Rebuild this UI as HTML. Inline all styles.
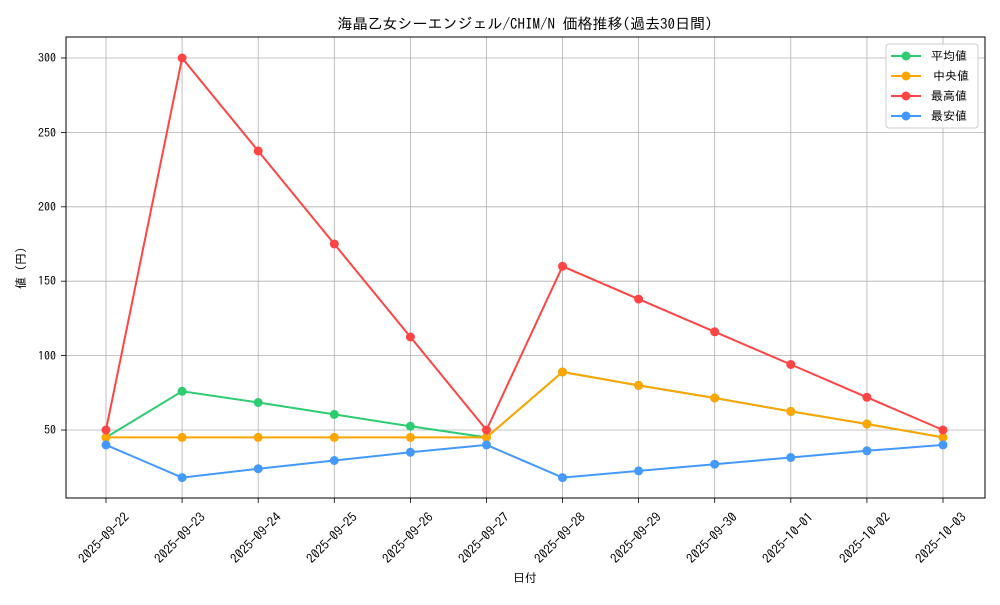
<!DOCTYPE html><html><head><meta charset="utf-8"><style>body{margin:0;background:#fff}svg text{font-family:"IPAGothic","Liberation Sans",sans-serif;fill:#000}</style></head><body>
<svg id="s" width="1000" height="600" xmlns="http://www.w3.org/2000/svg">
<rect width="1000" height="600" fill="#fff"/>
<g id="grid" stroke="#b0b0b0" stroke-width="0.8"></g>
<rect x="66" y="37" width="919" height="461" fill="none" stroke="#000" stroke-width="1"/>
<g id="data"></g>
<text x="525" y="29" font-size="15" text-anchor="middle">海晶乙女シーエンジェル/CHIM/N 価格推移(過去30日間)</text>
<g font-size="12" text-anchor="end">
<text x="56" y="434">50</text><text x="56" y="360">100</text><text x="56" y="285">150</text><text x="56" y="211">200</text><text x="56" y="137">250</text><text x="56" y="62">300</text>
</g>
<text transform="translate(25,268) rotate(-90)" font-size="12" text-anchor="middle">値 (円)</text>
<text x="525" y="582" font-size="12" text-anchor="middle">日付</text>
<g id="xl" font-size="13" text-anchor="middle">
<text transform="translate(107,541) rotate(-45)">2025-09-22</text>
<text transform="translate(183,541) rotate(-45)">2025-09-23</text>
<text transform="translate(259,541) rotate(-45)">2025-09-24</text>
<text transform="translate(335,541) rotate(-45)">2025-09-25</text>
<text transform="translate(411,541) rotate(-45)">2025-09-26</text>
<text transform="translate(487,541) rotate(-45)">2025-09-27</text>
<text transform="translate(563,541) rotate(-45)">2025-09-28</text>
<text transform="translate(639,541) rotate(-45)">2025-09-29</text>
<text transform="translate(715,541) rotate(-45)">2025-09-30</text>
<text transform="translate(791,541) rotate(-45)">2025-10-01</text>
<text transform="translate(868,541) rotate(-45)">2025-10-02</text>
<text transform="translate(944,541) rotate(-45)">2025-10-03</text>
</g>
<rect x="886" y="44" width="92" height="84" rx="3" fill="#fff" fill-opacity="0.8" stroke="#ccc"/>
<g stroke-width="2">
<line x1="891" y1="56" x2="921" y2="56" stroke="#2ecc71"/><circle cx="906" cy="56" r="4.5" fill="#2ecc71"/>
<line x1="891" y1="76" x2="921" y2="76" stroke="#ffa500"/><circle cx="906" cy="76" r="4.5" fill="#ffa500"/>
<line x1="891" y1="96" x2="921" y2="96" stroke="#ff4444"/><circle cx="906" cy="96" r="4.5" fill="#ff4444"/>
<line x1="891" y1="116" x2="921" y2="116" stroke="#4499ff"/><circle cx="906" cy="116" r="4.5" fill="#4499ff"/>
</g>
<g font-size="12"><text x="931" y="60">平均値</text><text x="933" y="80">中央値</text><text x="931" y="100">最高値</text><text x="931" y="120">最安値</text></g>
</svg>
<script>
const X=[106,182.1,258.2,334.3,410.4,486.5,562.5,638.6,714.7,790.8,866.9,943];
const Y=[430,355.6,281.2,206.8,132.4,58];
const ns="http://www.w3.org/2000/svg";
const g=document.getElementById('grid');
function el(p,t,a){const e=document.createElementNS(ns,t);for(const k in a)e.setAttribute(k,a[k]);p.appendChild(e);return e;}
X.forEach(x=>{el(g,'line',{x1:x,x2:x,y1:37,y2:498});el(g,'line',{x1:x,x2:x,y1:498,y2:503,stroke:'#000'});});
Y.forEach(y=>{el(g,'line',{x1:66,x2:985,y1:y,y2:y});el(g,'line',{x1:61,x2:66,y1:y,y2:y,stroke:'#000'});});
const S=[["#2ecc71",[437.4,391.3,402.5,414.4,426.3,437.4,372.0,385.4,398.0,411.4,424.0,437.4]],
["#ffa500",[437.4,437.4,437.4,437.4,437.4,437.4,372.0,385.4,398.0,411.4,424.0,437.4]],
["#ff4444",[430,58,151.0,244.0,337.0,430,266.3,299.1,331.8,364.5,397.3,430]],
["#4499ff",[444.9,477.6,468.7,460.5,452.3,444.9,477.6,470.9,464.2,457.5,450.8,444.9]]];
const d=document.getElementById('data');
S.forEach(([c,ys])=>{el(d,'polyline',{points:ys.map((y,i)=>X[i]+','+y).join(' '),fill:'none',stroke:c,'stroke-width':2});ys.forEach((y,i)=>el(d,'circle',{cx:X[i],cy:y,r:4.5,fill:c}));});
</script>
</body></html>
